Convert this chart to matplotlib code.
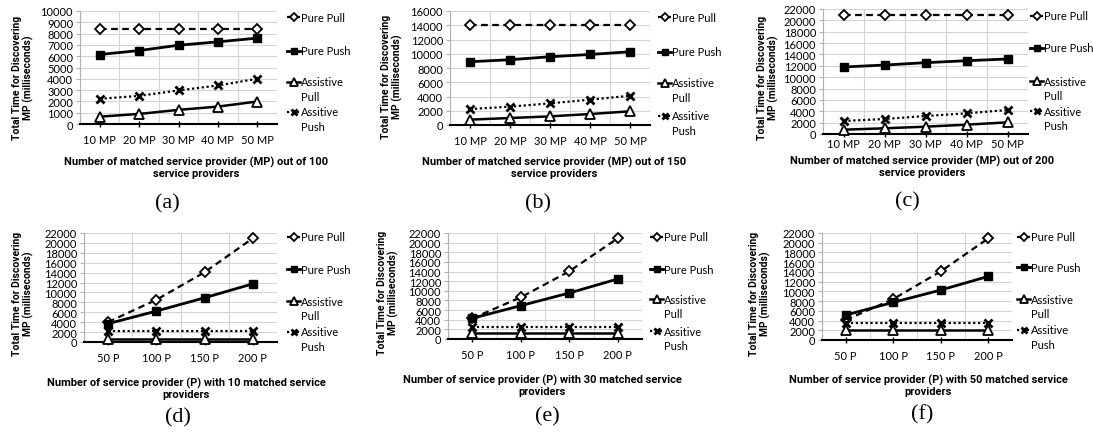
import matplotlib
matplotlib.use("Agg")
import matplotlib.pyplot as plt
import numpy as np
from matplotlib.ticker import FixedLocator
from matplotlib.legend import Legend

plt.rcParams['font.family'] = ['Lato', 'DejaVu Sans']

W, H = 1093, 435
BOLD_FAMILY = ['Roboto', 'DejaVu Sans']

# ---------------- data ----------------
cats_mp = ['10 MP', '20 MP', '30 MP', '40 MP', '50 MP']
cats_p = ['50 P', '100 P', '150 P', '200 P']

series_names = ['Pure Pull', 'Pure Push', 'Assistive Pull', 'Assitive Push']

a_pure_pull = [8430, 8430, 8430, 8430, 8430]
a_pure_push = [6150, 6500, 6970, 7270, 7600]
a_assist_pull = [650, 890, 1250, 1540, 1990]
a_assist_push = [2230, 2490, 2970, 3410, 4000]

b_pure_pull = [14100, 14100, 14100, 14100, 14100]
b_pure_push = [8880, 9160, 9580, 9900, 10280]
b_assist_pull = [750, 980, 1210, 1540, 1920]
b_assist_push = [2240, 2570, 3040, 3550, 4110]

c_pure_pull = [20940, 20940, 20940, 20940, 20940]
c_pure_push = [11790, 12140, 12550, 12900, 13200]
c_assist_pull = [760, 1000, 1290, 1640, 2050]
c_assist_push = [2290, 2640, 3170, 3640, 4220]

d_pure_pull = [4030, 8520, 14090, 20940]
d_pure_push = [3700, 6240, 8930, 11740]
d_assist_pull = [670, 670, 670, 670]
d_assist_push = [2210, 2210, 2210, 2210]

e_pure_pull = [4290, 8650, 14050, 20900]
e_pure_push = [4290, 6920, 9550, 12460]
e_assist_pull = [1250, 1250, 1250, 1250]
e_assist_push = [2560, 2560, 2560, 2560]

f_pure_pull = [4110, 8420, 14110, 20890]
f_pure_push = [5140, 7740, 10270, 13080]
f_assist_pull = [2050, 2050, 2050, 2050]
f_assist_push = [3490, 3490, 3490, 3490]

xlabels = [
    'Number of matched service provider (MP) out of 100\nservice providers',
    'Number of matched service provider (MP) out of 150\nservice providers',
    'Number of matched service provider (MP) out of 200\nservice providers',
    'Number of service provider (P) with 10 matched service\nproviders',
    'Number of service provider (P) with 30 matched service\nproviders',
    'Number of service provider (P) with 50 matched service\nproviders',
]
captions = ['(a)', '(b)', '(c)', '(d)', '(e)', '(f)']
ylabel = 'Total Time for Discovering\nMP (milliseconds)'

# ---------------- layout (pixels) ----------------
panels = [
    dict(cats=cats_mp, data=[a_pure_pull, a_pure_push, a_assist_pull, a_assist_push], ymax=10000, ystep=1000,
         box=(80, 12, 277, 125), ylab=(34, 78), xlab=(196, 157), tickpad=5, cap=(167, 204),
         leg=(287, [18, 52, 83, 113])),
    dict(cats=cats_mp, data=[b_pure_pull, b_pure_push, b_assist_pull, b_assist_push], ymax=16000, ystep=2000,
         box=(450, 12, 650, 126), ylab=(403, 77), xlab=(554, 157), tickpad=5, cap=(538, 204),
         leg=(658, [18, 53, 84, 117])),
    dict(cats=cats_mp, data=[c_pure_pull, c_pure_push, c_assist_pull, c_assist_push], ymax=22000, ystep=2000,
         box=(823, 10, 1028, 135), ylab=(779, 78), xlab=(922, 156), tickpad=1, cap=(907, 202),
         leg=(1030, [17, 49, 82, 112])),
    dict(cats=cats_p, data=[d_pure_pull, d_pure_push, d_assist_pull, d_assist_push], ymax=22000, ystep=2000,
         box=(84, 234, 277, 343), ylab=(34, 294), xlab=(186, 378), tickpad=5, cap=(178, 418),
         leg=(287, [238, 270, 302, 333])),
    dict(cats=cats_p, data=[e_pure_pull, e_pure_push, e_assist_pull, e_assist_push], ymax=22000, ystep=2000,
         box=(448, 234, 642, 340), ylab=(399, 293), xlab=(542, 375), tickpad=5, cap=(547, 417),
         leg=(650, [238, 270, 300, 332])),
    dict(cats=cats_p, data=[f_pure_pull, f_pure_push, f_assist_pull, f_assist_push], ymax=22000, ystep=2000,
         box=(822, 234, 1012, 341), ylab=(771, 294), xlab=(928, 375), tickpad=5, cap=(922, 415),
         leg=(1017, [238, 268, 300, 331])),
]

styles = [
    dict(linestyle=(0, (3.0, 2.0)), linewidth=1.6, marker='D', markersize=5,
         markerfacecolor='white', markeredgecolor='black', markeredgewidth=1.3, color='black'),
    dict(linestyle='-', linewidth=2.0, marker='s', markersize=5.5,
         markerfacecolor='black', markeredgecolor='black', color='black'),
    dict(linestyle='-', linewidth=1.8, marker='^', markersize=6.5,
         markerfacecolor='white', markeredgecolor='black', markeredgewidth=1.3, color='black'),
    dict(linestyle=(0, (1.0, 1.2)), linewidth=1.6, marker='x', markersize=5.5,
         markeredgewidth=2.0, color='black'),
]
leg_first = ['Pure Pull', 'Pure Push', 'Assistive', 'Assitive']
leg_second = [None, None, 'Pull', 'Push']

fig = plt.figure(figsize=(W / 100, H / 100), dpi=100)
fig.patch.set_facecolor('white')

for p, cap, xl in zip(panels, captions, xlabels):
    l, t, r, b = p['box']
    ax = fig.add_axes([l / W, 1 - b / H, (r - l) / W, (b - t) / H])
    n = len(p['cats'])
    x = np.arange(n)
    handles = []
    for vals, st in zip(p['data'], styles):
        h, = ax.plot(x, vals, clip_on=False, zorder=3, **st)
        handles.append(h)
    ax.set_xlim(-0.5, n - 0.5)
    ax.set_ylim(0, p['ymax'])
    ax.set_yticks(np.arange(0, p['ymax'] + 1, p['ystep']))
    ax.set_xticks(x)
    ax.set_xticklabels(p['cats'])
    ax.xaxis.set_minor_locator(FixedLocator(np.arange(-0.5, n - 0.5 + 0.01, 0.5)))
    ax.grid(True, which='major', axis='y', color='#d4d4d4', linewidth=0.8)
    ax.grid(True, which='minor', axis='x', color='#d4d4d4', linewidth=0.8)
    ax.set_axisbelow(True)
    for s in ['top', 'right']:
        ax.spines[s].set_visible(False)
    ax.spines['left'].set_color('#b0b0b0')
    ax.spines['left'].set_linewidth(0.8)
    ax.spines['bottom'].set_color('black')
    ax.spines['bottom'].set_linewidth(1.5)
    ax.tick_params(axis='y', which='major', length=3, color='#b0b0b0', labelsize=8, pad=2)
    ax.tick_params(axis='x', which='major', direction='inout', length=4, width=1.0,
                   color='black', labelsize=8, pad=p['tickpad'])
    ax.tick_params(axis='x', which='minor', length=0)

    ax.set_ylabel(ylabel, fontsize=7.5, fontweight='bold', linespacing=1.1, family=BOLD_FAMILY)
    ax.yaxis.set_label_coords((p['ylab'][0] - l) / (r - l), 1 - (p['ylab'][1] - t) / (b - t))
    ax.set_xlabel(xl, fontsize=8, fontweight='bold', linespacing=1.15, family=BOLD_FAMILY)
    ax.xaxis.set_label_coords((p['xlab'][0] - l) / (r - l), (b - p['xlab'][1]) / (b - t))

    fig.text(p['cap'][0] / W, 1 - p['cap'][1] / H, cap, fontsize=16,
             family=['Liberation Serif', 'DejaVu Serif'], ha='center', va='center')

    lx, lys = p['leg']
    for h, f1, f2, ly in zip(handles, leg_first, leg_second, lys):
        leg = Legend(ax, [h], [f1], loc='center left', bbox_to_anchor=(lx / W, 1 - ly / H),
                     bbox_transform=fig.transFigure, frameon=False, borderpad=0,
                     borderaxespad=0, handlelength=1.2, handletextpad=0.1,
                     fontsize=8, numpoints=1, markerscale=0.85)
        ax.add_artist(leg)
        if f2:
            fig.text((lx + 14) / W, 1 - (ly + 14.5) / H, f2, fontsize=8, ha='left', va='center')

fig.savefig('out.png', dpi=100, facecolor='white')
